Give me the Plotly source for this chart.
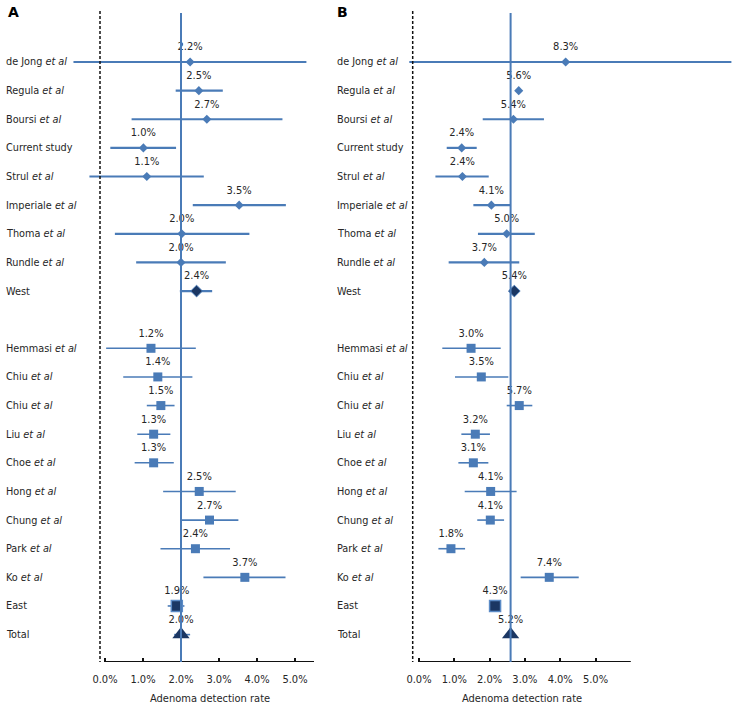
import plotly.graph_objects as go

# ---------------- data ----------------
studies = ["de Jong <i>et al</i>", "Regula <i>et al</i>", "Boursi <i>et al</i>", "Current study",
           "Strul <i>et al</i>", "Imperiale <i>et al</i>", "Thoma <i>et al</i>", "Rundle <i>et al</i>",
           "West", "",
           "Hemmasi <i>et al</i>", "Chiu <i>et al</i>", "Chiu <i>et al</i>", "Liu <i>et al</i>",
           "Choe <i>et al</i>", "Hong <i>et al</i>", "Chung <i>et al</i>", "Park <i>et al</i>",
           "Ko <i>et al</i>", "East", "Total"]
groups = ["west"] * 8 + ["west_sum", "none"] + ["east"] * 9 + ["east_sum", "total"]

a_rate = [2.24, 2.47, 2.68, 1.01, 1.10, 3.53, 2.02, 2.00, 2.41, None,
          1.21, 1.39, 1.47, 1.28, 1.28, 2.48, 2.75, 2.38, 3.68, 1.89, 2.00]
a_lo = [-0.83, 1.86, 0.70, 0.14, -0.41, 2.31, 0.26, 0.82, 1.97, None,
        0.03, 0.48, 1.10, 0.85, 0.78, 1.53, 2.02, 1.46, 2.59, 1.65, 1.82]
a_hi = [5.30, 3.10, 4.67, 1.87, 2.60, 4.76, 3.80, 3.18, 2.82, None,
        2.39, 2.30, 1.83, 1.72, 1.81, 3.44, 3.51, 3.29, 4.75, 2.09, 2.24]
a_text = ["2.2%", "2.5%", "2.7%", "1.0%", "1.1%", "3.5%", "2.0%", "2.0%", "2.4%", "",
          "1.2%", "1.4%", "1.5%", "1.3%", "1.3%", "2.5%", "2.7%", "2.4%", "3.7%", "1.9%", "2.0%"]

b_rate = [8.31, 5.65, 5.35, 2.42, 2.46, 4.10, 4.97, 3.70, 5.40, None,
          2.95, 3.53, 5.68, 3.19, 3.08, 4.06, 4.04, 1.81, 7.38, 4.31, 5.19]
b_lo = [-0.55, 5.55, 3.61, 1.57, 0.93, 3.08, 3.34, 1.68, 5.12, None,
        1.32, 2.04, 4.97, 2.40, 2.23, 2.59, 3.30, 1.10, 5.76, 4.15, 5.05]
b_hi = [17.7, 5.75, 7.08, 3.27, 3.95, 5.16, 6.56, 5.68, 5.68, None,
        4.63, 5.06, 6.42, 4.02, 3.93, 5.53, 4.82, 2.61, 9.05, 4.47, 5.32]
b_text = ["8.3%", "5.6%", "5.4%", "2.4%", "2.4%", "4.1%", "5.0%", "3.7%", "5.4%", "",
          "3.0%", "3.5%", "5.7%", "3.2%", "3.1%", "4.1%", "4.1%", "1.8%", "7.4%", "4.3%", "5.2%"]

a_tickvals = [0, 1, 2, 3, 4, 5]
b_tickvals = [0, 2, 4, 6, 8, 10]
tick_text = ["0.0%", "1.0%", "2.0%", "3.0%", "4.0%", "5.0%"]
x_title = "Adenoma detection rate"
panel_letters = ["A", "B"]

# ---------------- layout helpers ----------------
W, H = 741, 707
FONT = "DejaVu Sans Condensed, DejaVu Sans, sans-serif"
BLUE = "#4a7bb7"
NAVY = "#1b3763"
TXT = "#262626"

def px_x(p):
    return p / W

def px_y(p):
    return 1 - p / H

fig = go.Figure()

rows = list(range(len(studies)))

styles = {
    "west": dict(symbol="diamond", size=7, color=BLUE, line=dict(width=0), ew=2.2),
    "west_sum": dict(symbol="diamond", size=9, color=NAVY, line=dict(width=1, color="#4a7bb7"), ew=2.2),
    "east": dict(symbol="square", size=9, color=BLUE, line=dict(width=0), ew=1.6),
    "east_sum": dict(symbol="square", size=11, color=NAVY, line=dict(width=1.5, color="#5b8bc6"), ew=1.6),
    "total": dict(symbol="triangle-up", size=15, color=NAVY, line=dict(width=0), ew=1.6),
}

def add_panel(rate, lo, hi, txt, xa, ya):
    for g, st in styles.items():
        idx = [i for i in rows if groups[i] == g]
        xs = [rate[i] for i in idx]
        fig.add_trace(go.Scatter(
            x=xs, y=idx, mode="markers", xaxis=xa, yaxis=ya,
            marker=dict(symbol=st["symbol"], size=st["size"], color=st["color"], line=st["line"]),
            error_x=dict(type="data", symmetric=False,
                         array=[hi[i] - rate[i] for i in idx],
                         arrayminus=[rate[i] - lo[i] for i in idx],
                         color=BLUE, thickness=st["ew"], width=0),
            showlegend=False, hoverinfo="skip"))
    idx = [i for i in rows if rate[i] is not None]
    fig.add_trace(go.Scatter(
        x=[rate[i] for i in idx], y=[i - 0.5 for i in idx], text=[txt[i] for i in idx],
        mode="text", textposition="middle center", xaxis=xa, yaxis=ya,
        textfont=dict(family=FONT, size=11, color=TXT), showlegend=False, hoverinfo="skip"))

add_panel(a_rate, a_lo, a_hi, a_text, "x", "y")
add_panel(b_rate, b_lo, b_hi, b_text, "x2", "y2")

# pixel mapping: A: px = 105 + 38 v ; B: px = 419 + 17.65 v
a0, ak = 105, 38.0
b0, bk = 419, 17.65
y0, yk = 62, 28.63
top_px, axis_px = 8, 662

yrange = [(axis_px - y0) / yk, (top_px - y0) / yk]
ydom = [px_y(axis_px), px_y(top_px)]

axis_common = dict(showgrid=False, zeroline=False, showline=False, ticks="inside", ticklen=4,
                   tickwidth=2, tickcolor="#111", tickfont=dict(family=FONT, size=11, color=TXT),
                   ticklabelstandoff=9)
fig.update_layout(
    width=W, height=H, margin=dict(l=0, r=0, t=0, b=0),
    paper_bgcolor="white", plot_bgcolor="white",
    xaxis=dict(domain=[px_x(60), px_x(330)], range=[(60 - a0) / ak, (330 - a0) / ak],
               tickvals=a_tickvals, ticktext=tick_text, anchor="y", **axis_common),
    xaxis2=dict(domain=[px_x(400), 1.0], range=[(400 - b0) / bk, (741 - b0) / bk],
                tickvals=b_tickvals, ticktext=tick_text, anchor="y2", **axis_common),
    yaxis=dict(domain=ydom, range=yrange, visible=False, anchor="x"),
    yaxis2=dict(domain=ydom, range=yrange, visible=False, anchor="x2"),
)

shapes = []
y_top_line = (13 - y0) / yk
y_top_dash = (11 - y0) / yk
y_axis = yrange[0]
for xr, yr, x_dash, x_ref, ax_end in [("x", "y", (100 - a0) / ak, a_rate[-1], 5.5),
                                       ("x2", "y2", (412.7 - b0) / bk, b_rate[-1], 12.0)]:
    shapes.append(dict(type="line", xref=xr, yref=yr, x0=x_dash, x1=x_dash, y0=y_top_dash, y1=y_axis,
                       line=dict(color="#111", width=1.5, dash="3px,2px"), layer="above"))
    shapes.append(dict(type="line", xref=xr, yref=yr, x0=0, x1=ax_end, y0=y_axis, y1=y_axis,
                       line=dict(color="#111", width=2.2), layer="above"))
    shapes.append(dict(type="line", xref=xr, yref=yr, x0=x_ref, x1=x_ref, y0=y_top_line, y1=y_axis,
                       line=dict(color=BLUE, width=2), layer="above"))
fig.update_layout(shapes=shapes)

ann = []
for i, s in enumerate(studies):
    if not s:
        continue
    for xp, yr in [(4, "y"), (335, "y2")]:
        ann.append(dict(text=s, x=px_x(xp), xref="paper", y=i, yref=yr, xanchor="left",
                        yanchor="middle", showarrow=False,
                        font=dict(family=FONT, size=10.8, color=TXT)))
for xp, letter in [(6, panel_letters[0]), (335, panel_letters[1])]:
    ann.append(dict(text="<b>" + letter + "</b>", x=px_x(xp), xref="paper", y=px_y(12), yref="paper",
                    xanchor="left", yanchor="middle", showarrow=False,
                    font=dict(family="DejaVu Sans, sans-serif", size=14, color="#000")))
for xc in [210, 522]:
    ann.append(dict(text=x_title, x=px_x(xc), xref="paper", y=px_y(698), yref="paper",
                    xanchor="center", yanchor="middle", showarrow=False,
                    font=dict(family=FONT, size=11, color=TXT)))
fig.update_layout(annotations=ann)

fig.write_html("out.html", config={"displayModeBar": False},
               post_script="document.body.style.margin='0';document.body.style.overflow='hidden';")
